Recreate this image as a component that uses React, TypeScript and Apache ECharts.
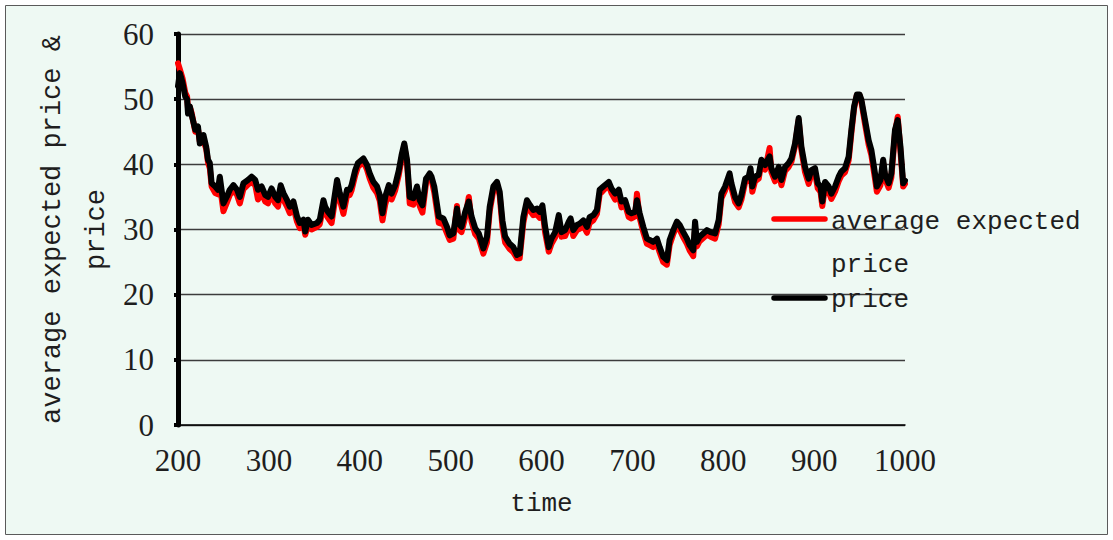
import React, { useEffect, useRef } from "react";
import * as echarts from "echarts";

const time = [
  200, 202, 205, 208, 210, 211, 213, 215, 219, 222,
  224, 228, 231, 233, 235, 237, 241, 244, 246, 250,
  254, 257, 261, 265, 268, 272, 277, 281, 285, 288,
  292, 296, 299, 303, 307, 310, 313, 316, 320, 323,
  327, 331, 334, 338, 340, 343, 347, 353, 356, 360,
  362, 365, 369, 375, 378, 382, 386, 389, 391, 395,
  398, 404, 408, 411, 415, 419, 422, 425, 428, 432,
  435, 439, 443, 446, 449, 452, 455, 459, 463, 466,
  469, 473, 477, 479, 482, 487, 492, 496, 499, 503,
  507, 509, 512, 516, 520, 523, 527, 531, 536, 540,
  543, 547, 551, 554, 557, 560, 565, 569, 573, 576,
  580, 584, 587, 591, 595, 598, 601, 604, 608, 611,
  615, 619, 622, 626, 630, 632, 635, 639, 642, 646,
  650, 653, 657, 661, 664, 668, 674, 677, 681, 685,
  688, 692, 696, 699, 703, 705, 708, 712, 716, 719,
  723, 727, 730, 734, 738, 741, 745, 749, 752, 756,
  760, 763, 767, 769, 771, 774, 782, 786, 791, 795,
  798, 802, 807, 809, 813, 817, 820, 824, 828, 830,
  832, 835, 839, 842, 846, 851, 853, 857, 861, 864,
  868, 872, 875, 879, 883, 886, 890, 894, 897, 901,
  904, 907, 909, 912, 916, 919, 923, 927, 930, 934,
  938, 941, 944, 947, 950, 952, 956, 960, 963, 967,
  969, 973, 976, 978, 982, 985, 989, 992, 995, 998,
  1000,
];

const price = [
  52.0, 54.0, 52.5, 50.4, 50.0, 47.8, 48.9, 47.6, 45.3, 45.8,
  43.2, 44.5, 42.7, 40.7, 40.2, 37.1, 36.6, 36.1, 38.1, 34.0,
  35.1, 36.1, 36.8, 36.1, 35.0, 37.1, 37.6, 38.1, 37.6, 36.1,
  36.6, 35.3, 35.0, 36.3, 35.0, 34.5, 36.8, 35.6, 34.5, 33.5,
  34.3, 32.0, 31.0, 31.5, 29.7, 31.5, 30.7, 31.0, 31.5, 34.5,
  33.5, 32.7, 32.0, 37.6, 35.6, 33.5, 36.1, 36.1, 36.8, 39.1,
  40.2, 40.9, 39.9, 38.6, 37.3, 36.6, 35.3, 32.5, 35.0, 36.8,
  35.5, 36.8, 39.1, 41.4, 43.2, 40.7, 35.0, 34.8, 36.6, 34.5,
  33.7, 37.8, 38.6, 38.1, 36.6, 32.0, 31.7, 30.4, 29.1, 29.4,
  33.2, 30.9, 30.4, 32.7, 34.3, 32.0, 30.2, 29.4, 27.1, 28.9,
  33.5, 36.6, 37.3, 35.8, 31.4, 28.9, 27.8, 27.3, 26.1, 26.3,
  31.9, 34.5, 33.8, 33.0, 33.2, 32.7, 33.7, 30.4, 27.3, 28.6,
  29.6, 32.2, 29.6, 29.9, 31.2, 31.7, 29.9, 30.7, 30.9, 31.4,
  30.4, 31.9, 32.2, 33.0, 36.1, 36.6, 37.3, 36.3, 35.5, 36.1,
  34.3, 34.5, 32.7, 32.5, 32.7, 34.5, 32.5, 30.4, 28.6, 28.4,
  28.1, 28.6, 27.3, 25.8, 25.3, 28.4, 29.9, 31.2, 30.7, 29.6,
  28.6, 27.6, 26.8, 31.2, 28.1, 28.9, 29.9, 29.6, 29.4, 31.5,
  35.5, 36.6, 38.6, 37.1, 35.0, 34.0, 35.3, 37.8, 38.1, 39.4,
  36.6, 38.1, 38.4, 40.7, 39.9, 41.2, 39.4, 38.1, 39.6, 37.6,
  39.6, 40.2, 40.9, 43.2, 47.1, 42.7, 39.6, 37.8, 39.1, 39.4,
  37.1, 36.6, 34.3, 37.3, 36.6, 35.5, 36.6, 38.1, 38.9, 39.4,
  41.2, 45.3, 48.9, 50.7, 50.7, 49.9, 46.8, 43.7, 42.2, 38.6,
  36.6, 37.6, 40.7, 38.5, 37.1, 38.6, 45.3, 46.8, 42.7, 37.1,
  37.5,
];

const expectedPrice = [
  55.5, 54.6, 53.2, 51.0, 50.4, 48.6, 48.8, 47.9, 45.0, 45.4,
  43.5, 43.6, 42.4, 40.3, 39.4, 36.6, 35.6, 35.4, 36.9, 32.8,
  34.2, 35.3, 36.1, 35.3, 34.0, 36.2, 36.9, 37.3, 36.8, 34.6,
  35.6, 34.3, 34.0, 35.5, 34.0, 33.5, 36.0, 34.6, 33.5, 32.5,
  33.4, 31.2, 30.2, 30.8, 29.2, 30.6, 30.0, 30.4, 30.8, 33.6,
  32.6, 31.8, 31.0, 36.6, 34.6, 32.4, 35.2, 35.3, 36.0, 38.3,
  39.6, 40.4, 39.2, 37.8, 36.4, 35.6, 34.4, 31.4, 33.8, 35.9,
  34.6, 36.0, 38.4, 40.8, 42.8, 40.2, 34.0, 33.8, 35.8, 33.6,
  32.6, 37.2, 38.4, 37.6, 35.7, 31.0, 30.8, 29.4, 28.4, 28.6,
  33.6, 30.0, 29.6, 31.8, 35.0, 31.2, 29.3, 28.6, 26.3, 28.0,
  32.8, 36.0, 37.0, 35.2, 30.4, 28.0, 27.0, 26.5, 25.6, 25.6,
  31.0, 33.8, 33.0, 32.2, 32.3, 31.8, 33.0, 29.5, 26.6, 27.8,
  28.8, 31.4, 28.9, 29.0, 30.4, 31.0, 29.0, 29.9, 30.1, 30.6,
  29.5, 31.0, 31.4, 32.4, 35.4, 36.0, 36.8, 35.6, 34.6, 35.3,
  33.4, 33.8, 31.9, 31.7, 32.0, 35.5, 31.8, 29.6, 27.8, 27.6,
  27.3, 27.8, 26.5, 25.0, 24.6, 27.6, 29.3, 30.6, 30.0, 28.8,
  27.8, 26.8, 25.9, 30.2, 27.4, 28.2, 29.2, 28.9, 28.6, 30.8,
  34.8, 36.0, 38.2, 36.4, 34.2, 33.4, 34.6, 37.2, 37.6, 38.8,
  35.8, 37.4, 37.8, 40.2, 39.2, 42.5, 38.8, 37.4, 39.0, 36.8,
  39.0, 39.6, 40.4, 42.8, 46.8, 42.2, 38.8, 37.0, 38.4, 38.7,
  36.3, 35.8, 33.6, 36.5, 35.8, 34.7, 35.8, 37.4, 38.3, 38.8,
  40.6, 44.8, 48.6, 50.6, 50.6, 49.6, 46.2, 43.0, 41.4, 37.8,
  35.8, 36.8, 40.2, 37.8, 36.4, 38.0, 44.8, 47.3, 42.0, 36.6,
  37.0,
];

const seriesNames = ["average expected price", "price"];
const xAxisTitle = "time";
const yAxisTitle = "average expected price &\nprice";

const MONO = "'Liberation Mono', 'DejaVu Sans Mono', monospace";
const SERIF = "'Liberation Serif', 'DejaVu Serif', serif";
const TEXT_COLOR = "#1e1e1e";

export default function App() {
  const ref = useRef<HTMLDivElement>(null);

  useEffect(() => {
    if (!ref.current) return;
    const chart = echarts.init(ref.current, undefined, { renderer: "svg" });

    const expData = time.map((t, i) => [t, expectedPrice[i]]);
    const priceData = time.map((t, i) => [t, price[i]]);

    chart.setOption({
      animation: false,
      backgroundColor: "transparent",
      graphic: [
        {
          type: "rect",
          z: -100,
          silent: true,
          shape: { x: 5.5, y: 5.5, width: 1102, height: 529 },
          style: { fill: "#EEF9F3", stroke: "#5a5a5a", lineWidth: 1 },
        },
        {
          type: "line",
          z: 10,
          shape: { x1: 774, y1: 219, x2: 825, y2: 219 },
          style: { stroke: "#ff0000", lineWidth: 5.5, lineCap: "round" },
        },
        {
          type: "text",
          z: 10,
          x: 831,
          y: 200,
          style: {
            text: "average expected\nprice",
            font: `26px ${MONO}`,
            fill: TEXT_COLOR,
            lineHeight: 43,
            verticalAlign: "top",
            align: "left",
          },
        },
        {
          type: "line",
          z: 10,
          shape: { x1: 774, y1: 298, x2: 825, y2: 298 },
          style: { stroke: "#000000", lineWidth: 5.5, lineCap: "round" },
        },
        {
          type: "text",
          z: 10,
          x: 831,
          y: 300,
          style: {
            text: "price",
            font: `26px ${MONO}`,
            fill: TEXT_COLOR,
            verticalAlign: "middle",
            align: "left",
          },
        },
      ],
      grid: { left: 178, right: 208, top: 34, bottom: 115, containLabel: false },
      xAxis: {
        type: "value",
        min: 200,
        max: 1000,
        interval: 100,
        name: xAxisTitle,
        nameLocation: "middle",
        nameGap: 66,
        nameTextStyle: { fontFamily: MONO, fontSize: 26, color: TEXT_COLOR },
        axisLine: { show: true, onZero: false, lineStyle: { color: "#000", width: 1.5 } },
        axisTick: { show: false },
        splitLine: { show: false },
        axisLabel: {
          fontFamily: SERIF,
          fontSize: 31,
          color: TEXT_COLOR,
          margin: 20,
          formatter: (v: number) => String(v),
        },
      },
      yAxis: {
        type: "value",
        min: 0,
        max: 60,
        interval: 10,
        name: yAxisTitle,
        nameLocation: "middle",
        nameRotate: 90,
        nameGap: 59,
        nameMoveOverlap: false,
        nameTextStyle: {
          fontFamily: MONO,
          fontSize: 27,
          lineHeight: 44,
          color: TEXT_COLOR,
          align: "center",
        },
        axisLine: { show: true, lineStyle: { color: "#000", width: 5 } },
        axisTick: { show: true, length: 4, lineStyle: { color: "#000", width: 4 } },
        splitLine: { show: true, lineStyle: { color: "#3c3c3c", width: 1.3 } },
        axisLabel: {
          fontFamily: SERIF,
          fontSize: 31,
          color: TEXT_COLOR,
          margin: 24,
          formatter: (v: number) => String(v),
        },
      },
      series: [
        {
          name: seriesNames[0],
          type: "line",
          data: expData,
          showSymbol: false,
          symbol: "none",
          z: 3,
          lineStyle: { color: "#ff0000", width: 6, cap: "round", join: "round" },
          itemStyle: { color: "#ff0000" },
        },
        {
          name: seriesNames[1],
          type: "line",
          data: priceData,
          showSymbol: false,
          symbol: "none",
          z: 4,
          lineStyle: { color: "#000000", width: 6, cap: "round", join: "round" },
          itemStyle: { color: "#000000" },
        },
      ],
    });

    return () => chart.dispose();
  }, []);

  return (
    <div
      style={{
        position: "fixed",
        left: 0,
        top: 0,
        width: 1113,
        height: 540,
        background: "#ffffff",
      }}
    >
      <div ref={ref} style={{ width: 1113, height: 540 }} />
    </div>
  );
}
